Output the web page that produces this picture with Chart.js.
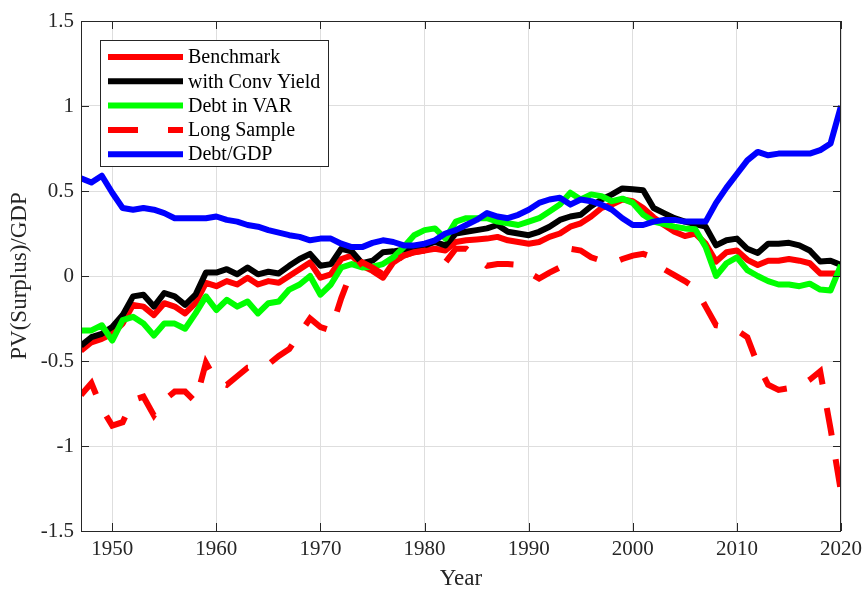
<!DOCTYPE html>
<html>
<head>
<meta charset="utf-8">
<script src="https://cdn.jsdelivr.net/npm/chart.js@4.4.0/dist/chart.umd.min.js"></script>
<style>
  html, body { margin: 0; padding: 0; background: #fff; }
  canvas { display: block; }
</style>
</head>
<body>
<canvas id="pvChart" width="868" height="589"></canvas>
<script>
const years = [];
for (let y = 1947; y <= 2020; y++) years.push(y)

const benchmark = [
    -0.44, -0.39, -0.37, -0.34, -0.28, -0.17, -0.18, -0.23, -0.16, -0.18,
    -0.22, -0.16, -0.04, -0.06, -0.03, -0.05, -0.01, -0.05, -0.03, -0.04,
    0.00, 0.04, 0.08, -0.01, 0.01, 0.10, 0.12, 0.06, 0.03, -0.01,
    0.08, 0.12, 0.14, 0.15, 0.16, 0.15, 0.20, 0.21, 0.215, 0.22,
    0.23, 0.21, 0.20, 0.19, 0.20, 0.23, 0.25, 0.29, 0.31, 0.35,
    0.40, 0.42, 0.45, 0.44, 0.40, 0.345, 0.30, 0.26, 0.235, 0.25,
    0.19, 0.085, 0.14, 0.15, 0.095, 0.065, 0.09, 0.09, 0.10, 0.09,
    0.075, 0.015, 0.015, 0.015
]
const convYield = [
    -0.41, -0.36, -0.34, -0.30, -0.23, -0.12, -0.11, -0.18, -0.10, -0.12,
    -0.17, -0.11, 0.02, 0.02, 0.04, 0.01, 0.05, 0.01, 0.025, 0.015,
    0.06, 0.10, 0.13, 0.06, 0.07, 0.16, 0.145, 0.075, 0.09, 0.14,
    0.145, 0.155, 0.165, 0.18, 0.20, 0.18, 0.25, 0.26, 0.27, 0.28,
    0.30, 0.26, 0.25, 0.24, 0.26, 0.29, 0.33, 0.35, 0.36, 0.41,
    0.45, 0.48, 0.515, 0.51, 0.505, 0.40, 0.37, 0.34, 0.32, 0.305,
    0.29, 0.18, 0.21, 0.22, 0.16, 0.135, 0.19, 0.19, 0.195, 0.18,
    0.15, 0.085, 0.09, 0.065
]
const debtInVar = [
    -0.32, -0.32, -0.29, -0.38, -0.26, -0.24, -0.28, -0.35, -0.28, -0.28,
    -0.31, -0.22, -0.12, -0.20, -0.14, -0.18, -0.15, -0.22, -0.16, -0.15,
    -0.08, -0.05, 0.00, -0.11, -0.05, 0.05, 0.07, 0.05, 0.055, 0.07,
    0.11, 0.17, 0.24, 0.27, 0.28, 0.22, 0.32, 0.34, 0.34, 0.34,
    0.32, 0.31, 0.30, 0.32, 0.34, 0.38, 0.42, 0.49, 0.45, 0.48,
    0.47, 0.44, 0.455, 0.43, 0.36, 0.32, 0.305, 0.29, 0.28, 0.275,
    0.17, 0.00, 0.075, 0.11, 0.035, 0.00, -0.03, -0.05, -0.05, -0.06,
    -0.045, -0.08, -0.085, 0.065
]
const longSample = [
    -0.70, -0.63, -0.78, -0.88, -0.86, -0.73, -0.71, -0.82, -0.73, -0.68,
    -0.68, -0.74, -0.51, -0.62, -0.64, -0.59, -0.54, -0.54, -0.52, -0.47,
    -0.43, -0.34, -0.25, -0.30, -0.32, -0.13, 0.03, 0.08, 0.05, 0.01,
    0.08, 0.12, 0.14, 0.15, 0.13, 0.08, 0.16, 0.16, 0.11, 0.06,
    0.07, 0.07, 0.065, 0.02, -0.015, 0.02, 0.05, 0.16, 0.15, 0.11,
    0.09, 0.075, 0.10, 0.12, 0.13, 0.11, 0.04, 0.005, -0.03, -0.07,
    -0.18, -0.29, -0.30, -0.32, -0.36, -0.52, -0.64, -0.67, -0.66, -0.65,
    -0.61, -0.56, -0.90, -1.27
]
const debtGdp = [
    0.575, 0.55, 0.59, 0.49, 0.40, 0.39, 0.40, 0.39, 0.37, 0.34,
    0.34, 0.34, 0.34, 0.35, 0.33, 0.32, 0.30, 0.29, 0.27, 0.255,
    0.24, 0.23, 0.21, 0.22, 0.22, 0.19, 0.17, 0.17, 0.195, 0.21,
    0.20, 0.18, 0.18, 0.19, 0.21, 0.25, 0.27, 0.30, 0.33, 0.37,
    0.35, 0.34, 0.36, 0.39, 0.43, 0.45, 0.46, 0.42, 0.45, 0.44,
    0.42, 0.39, 0.34, 0.30, 0.30, 0.32, 0.33, 0.33, 0.32, 0.32,
    0.32, 0.43, 0.52, 0.60, 0.68, 0.73, 0.71, 0.72, 0.72, 0.72,
    0.72, 0.74, 0.78, 1.00
]

const xTicks = [1950, 1960, 1970, 1980, 1990, 2000, 2010, 2020]
const yTicks = [-1.5, -1, -0.5, 0, 0.5, 1, 1.5]

const serif = "'Liberation Serif', 'Times New Roman', serif"

const toPoints = (values) => values.map((v, i) => ({ x: years[i], y: v }))

const lineStyle = {
    borderWidth: 6,
    pointRadius: 0,
    tension: 0,
    fill: false,
    borderJoinStyle: 'round'
}

// box around the axes with inward tick marks on all four sides
const axesBox = {
    id: 'axesBox',
    afterDatasetsDraw(chart) {
        const { ctx, chartArea: a, scales } = chart
        ctx.save()
        ctx.strokeStyle = '#262626'
        ctx.lineWidth = 1
        ctx.strokeRect(a.left + 0.5, a.top + 0.5, a.right - a.left - 1, a.bottom - a.top)
        const len = 8
        ctx.beginPath()
        xTicks.forEach(v => {
            const px = Math.round(scales.x.getPixelForValue(v)) + 0.5
            ctx.moveTo(px, a.bottom); ctx.lineTo(px, a.bottom - len)
            ctx.moveTo(px, a.top); ctx.lineTo(px, a.top + len)
        })
        yTicks.forEach(v => {
            const py = Math.round(scales.y.getPixelForValue(v)) + 0.5
            ctx.moveTo(a.left, py); ctx.lineTo(a.left + len, py)
            ctx.moveTo(a.right, py); ctx.lineTo(a.right - len, py)
        })
        ctx.stroke()
        ctx.restore()
    }
}

// legend box drawn in the upper left of the plot
const boxLegend = {
    id: 'boxLegend',
    afterDraw(chart) {
        const { ctx } = chart
        const x = 100.5, y = 40.5, w = 228, h = 126
        ctx.save()
        ctx.fillStyle = '#fff'
        ctx.fillRect(x, y, w, h)
        ctx.strokeStyle = '#262626'
        ctx.lineWidth = 1
        ctx.strokeRect(x, y, w, h)
        ctx.font = '20px ' + serif
        ctx.textBaseline = 'middle'
        ctx.fillStyle = '#000'
        const items = chart.data.datasets.slice().sort((p, q) => p.legendIndex - q.legendIndex)
        items.forEach((ds, i) => {
            const cy = 57 + i * 24.3
            ctx.beginPath()
            ctx.strokeStyle = ds.borderColor
            ctx.lineWidth = ds.borderWidth
            ctx.setLineDash(ds.legendDash || [])
            ctx.moveTo(108, cy)
            ctx.lineTo(183, cy)
            ctx.stroke()
            ctx.setLineDash([])
            ctx.fillText(ds.label, 188, cy + 1)
        })
        ctx.restore()
    }
}

new Chart(document.getElementById('pvChart'), {
    type: 'line',
    data: {
        datasets: [
            { label: 'Benchmark', data: toPoints(benchmark), borderColor: '#ff0000', order: 5, legendIndex: 0, ...lineStyle },
            { label: 'with Conv Yield', data: toPoints(convYield), borderColor: '#000000', order: 4, legendIndex: 1, ...lineStyle },
            { label: 'Debt in VAR', data: toPoints(debtInVar), borderColor: '#00ff00', order: 3, legendIndex: 2, ...lineStyle },
            { label: 'Long Sample', data: toPoints(longSample), borderColor: '#ff0000', borderDash: [28, 24], legendDash: [30, 30], order: 2, legendIndex: 3, ...lineStyle, borderJoinStyle: 'miter' },
            { label: 'Debt/GDP', data: toPoints(debtGdp), borderColor: '#0000ff', order: 1, legendIndex: 4, ...lineStyle }
        ]
    },
    options: {
        responsive: false,
        animation: false,
        devicePixelRatio: 1,
        layout: { padding: { top: 21, right: 22, left: 0, bottom: 0 } },
        plugins: {
            legend: { display: false },
            tooltip: { enabled: false }
        },
        scales: {
            x: {
                type: 'linear',
                min: 1947,
                max: 2020,
                afterBuildTicks: axis => { axis.ticks = xTicks.map(v => ({ value: v })) },
                afterFit: axis => { axis.height = 58 },
                grid: { color: '#dedede', drawTicks: false },
                border: { display: false },
                ticks: {
                    padding: 6,
                    color: '#262626',
                    font: { family: serif, size: 21 },
                    callback: v => String(v)
                },
                title: {
                    display: true,
                    text: 'Year',
                    color: '#262626',
                    font: { family: serif, size: 23 },
                    padding: { top: 0, bottom: -4 }
                }
            },
            y: {
                min: -1.5,
                max: 1.5,
                afterBuildTicks: axis => { axis.ticks = yTicks.map(v => ({ value: v })) },
                afterFit: axis => { axis.width = 81 },
                grid: { color: '#dedede', drawTicks: false },
                border: { display: false },
                ticks: {
                    padding: 7,
                    color: '#262626',
                    font: { family: serif, size: 21 },
                    callback: v => String(v)
                },
                title: {
                    display: true,
                    text: 'PV(Surplus)/GDP',
                    color: '#262626',
                    font: { family: serif, size: 23 },
                    padding: { top: 6, bottom: 0 }
                }
            }
        }
    },
    plugins: [axesBox, boxLegend]
});
</script>
</body>
</html>
